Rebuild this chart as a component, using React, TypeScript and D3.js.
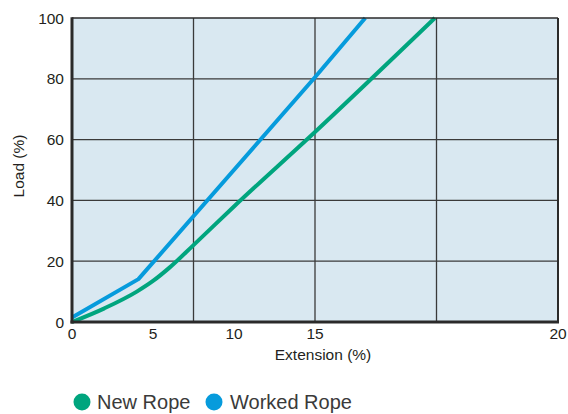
import React from "react";
import * as d3 from "d3";

// Data
const xTickValues = [0, 5, 10, 15, 30];
const xTickLabels = ["0", "5", "10", "15", "20"];
const xGridValues = [7.5, 15, 22.5];
const yTickValues = [0, 20, 40, 60, 80, 100];
const yGridValues = [20, 40, 60, 80];

const newRopeX = [0, 2, 4, 5, 6, 7.5, 10, 15, 22.4];
const newRopeY = [0, 4.5, 10, 13.5, 17.8, 25.3, 38, 62.5, 100];

const workedRopeX = [0, 4.1, 15, 18.1];
const workedRopeY = [1.5, 14.1, 80.5, 100];

const seriesNames = ["New Rope", "Worked Rope"];
const seriesColors = ["#00a57e", "#069bdc"];

const W = 568;
const H = 414;
const left = 72, right = 558, top = 18, bottom = 322;

export default function App() {
  const x = d3.scaleLinear().domain([0, 30]).range([left, right]);
  const y = d3.scaleLinear().domain([0, 100]).range([bottom, top]);

  const lineMono = d3
    .line<[number, number]>()
    .x((d) => x(d[0]))
    .y((d) => y(d[1]))
    .curve(d3.curveMonotoneX);
  const lineLin = d3
    .line<[number, number]>()
    .x((d) => x(d[0]))
    .y((d) => y(d[1]));

  const newPts = newRopeX.map((v, i) => [v, newRopeY[i]] as [number, number]);
  const workedPts = workedRopeX.map((v, i) => [v, workedRopeY[i]] as [number, number]);

  const font = "'Liberation Sans', Arial, Helvetica, sans-serif";

  return (
    <svg
      width={W}
      height={H}
      style={{ position: "absolute", left: 0, top: 0, background: "#fff" }}
      fontFamily={font}
    >
      <rect x={left} y={top} width={right - left} height={bottom - top} fill="#d9e8f1" />
      {yGridValues.map((v) => (
        <line key={"yg" + v} x1={left} x2={right} y1={y(v)} y2={y(v)} stroke="#3a3a3a" strokeWidth={1.3} />
      ))}
      {xGridValues.map((v) => (
        <line key={"xg" + v} x1={x(v)} x2={x(v)} y1={top} y2={bottom} stroke="#3a3a3a" strokeWidth={1.3} />
      ))}
      <path d={lineMono(newPts) || ""} fill="none" stroke={seriesColors[0]} strokeWidth={4} strokeLinejoin="round" />
      <path d={lineLin(workedPts) || ""} fill="none" stroke={seriesColors[1]} strokeWidth={4} strokeLinejoin="round" />
      {/* border */}
      <line x1={left} x2={right} y1={top} y2={top} stroke="#2a2a2a" strokeWidth={1.5} />
      <line x1={right} x2={right} y1={top} y2={bottom} stroke="#2a2a2a" strokeWidth={2} />
      <line x1={left} x2={left} y1={top - 0.75} y2={bottom + 1.5} stroke="#2a2a2a" strokeWidth={3} />
      <line x1={left - 1.5} x2={right + 1} y1={bottom} y2={bottom} stroke="#2a2a2a" strokeWidth={3} />
      {/* y ticks */}
      {yTickValues.map((v) => (
        <text key={"yt" + v} x={64} y={y(v)} dy="0.36em" textAnchor="end" fontSize={15.5} fill="#231f20">
          {v}
        </text>
      ))}
      {xTickValues.map((v, i) => (
        <text key={"xt" + v} x={x(v)} y={339} textAnchor="middle" fontSize={15.5} fill="#231f20">
          {xTickLabels[i]}
        </text>
      ))}
      <text x={323} y={360} textAnchor="middle" fontSize={15.5} fill="#231f20">
        Extension (%)
      </text>
      <text
        transform={`translate(24, ${166}) rotate(-90)`}
        textAnchor="middle"
        fontSize={15.5}
        fill="#231f20"
      >
        Load (%)
      </text>
      {/* legend */}
      <circle cx={82} cy={402} r={8.5} fill={seriesColors[0]} />
      <text x={97} y={409} fontSize={20} fill="#3a3a3a">
        {seriesNames[0]}
      </text>
      <circle cx={214} cy={402} r={8.5} fill={seriesColors[1]} />
      <text x={230} y={409} fontSize={20} fill="#3a3a3a">
        {seriesNames[1]}
      </text>
    </svg>
  );
}
